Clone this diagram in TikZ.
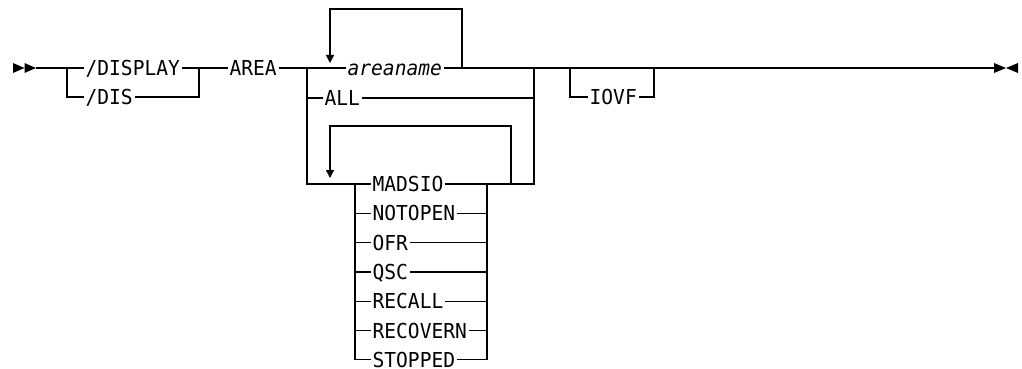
\documentclass[tikz,border=0pt]{standalone}
\usepackage{fontspec}
\setmonofont{DejaVu Sans Mono}[FakeStretch=0.95]
\usetikzlibrary{arrows.meta}

\begin{document}
\begin{tikzpicture}[x=1pt,y=-1pt,line width=1.3pt,
  kw/.style={font=\ttfamily\fontsize{20.6}{24}\selectfont,inner xsep=1.5pt,inner ysep=0pt,text height=15pt,text depth=0pt,anchor=west},
  back/.style={-{Triangle[width=8pt,length=8pt]}}]
\useasboundingbox (0,0) rectangle (1022,369);
\fill (13,63) -- (24.5,68) -- (13,73) -- cycle;
\fill (24.5,63) -- (36,68) -- (24.5,73) -- cycle;
\fill (994,63) -- (1006,68) -- (994,73) -- cycle;
\fill (1018,63) -- (1006,68) -- (1018,73) -- cycle;
\coordinate (start) at (36,68);
\coordinate (finish) at (994,68);
\coordinate (b1) at (67,68);
\coordinate (b2) at (199,68);
\coordinate (b3) at (307,68);
\coordinate (b4) at (534,68);
\coordinate (b5) at (570,68);
\coordinate (b6) at (654,68);
\coordinate (c1) at (355,184);
\coordinate (c2) at (487,184);
\coordinate (rep1) at (462,68);
\coordinate (tip1) at (330,63);
\coordinate (rep2) at (511,184);
\coordinate (tip2) at (330,178);
\node[kw] (display) at (83.5,68) {/DISPLAY};
\node[kw] (dis) at (83.5,97) {/DIS};
\node[kw] (area) at (227.5,68) {AREA};
\node[kw] (areaname) at (345.5,68) {\itshape areaname};
\node[kw] (all) at (322.5,98) {ALL};
\node[kw] (madsio) at (370.5,184) {MADSIO};
\node[kw] (notopen) at (370.5,213.3) {NOTOPEN};
\node[kw] (ofr) at (370.5,242.6) {OFR};
\node[kw] (qsc) at (370.5,271.9) {QSC};
\node[kw] (recall) at (370.5,301.2) {RECALL};
\node[kw] (recovern) at (370.5,330.5) {RECOVERN};
\node[kw] (stopped) at (370.5,359.8) {STOPPED};
\node[kw] (iovf) at (587.5,97) {IOVF};
\draw (start) -- (display.west);
\draw (display.east) -- (area.west);
\draw (b1) |- (dis.west);
\draw (dis.east) -| (b2);
\draw (area.east) -- (areaname.west);
\draw (areaname.east) -- (finish);
\draw (b3) |- (all.west);
\draw (all.east) -| (b4);
\draw (b3) |- (madsio.west);
\draw (madsio.east) -| (b4);
\draw (c1) |- (notopen.west);
\draw (c1) |- (ofr.west);
\draw (c1) |- (qsc.west);
\draw (c1) |- (recall.west);
\draw (c1) |- (recovern.west);
\draw (c1) |- (stopped.west);
\draw (notopen.east) -| (c2);
\draw (ofr.east) -| (c2);
\draw (qsc.east) -| (c2);
\draw (recall.east) -| (c2);
\draw (recovern.east) -| (c2);
\draw (stopped.east) -| (c2);
\draw[back] (rep1) -- ++(0,-59) -| (tip1);
\draw[back] (rep2) -- ++(0,-58) -| (tip2);
\draw (b5) |- (iovf.west);
\draw (iovf.east) -| (b6);
\end{tikzpicture}
\end{document}
